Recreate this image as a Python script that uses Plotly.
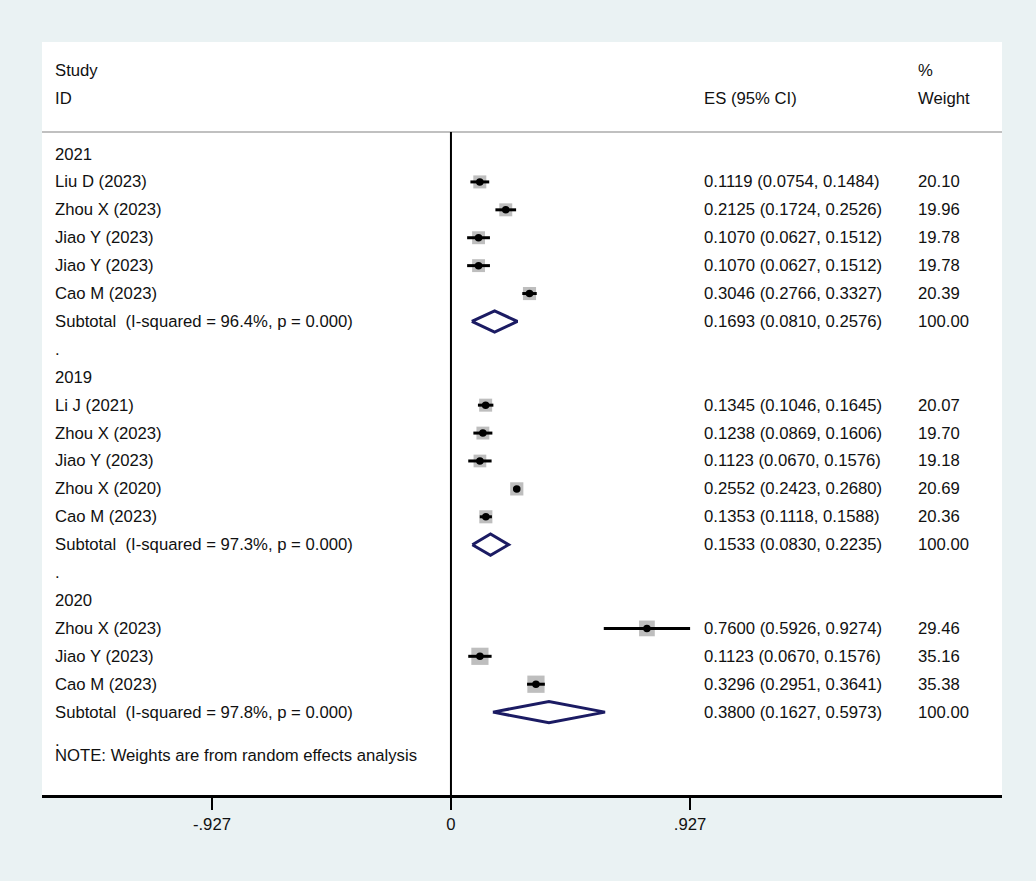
import plotly.graph_objects as go
import numpy as np

# ---- data ----
groups = ["2021", "2019", "2020"]

studies_2021 = ["Liu D (2023)", "Zhou X (2023)", "Jiao Y (2023)", "Jiao Y (2023)", "Cao M (2023)"]
es_2021 = [0.1119, 0.2125, 0.1070, 0.1070, 0.3046]
lo_2021 = [0.0754, 0.1724, 0.0627, 0.0627, 0.2766]
hi_2021 = [0.1484, 0.2526, 0.1512, 0.1512, 0.3327]
wt_2021 = [20.10, 19.96, 19.78, 19.78, 20.39]

studies_2019 = ["Li J (2021)", "Zhou X (2023)", "Jiao Y (2023)", "Zhou X (2020)", "Cao M (2023)"]
es_2019 = [0.1345, 0.1238, 0.1123, 0.2552, 0.1353]
lo_2019 = [0.1046, 0.0869, 0.0670, 0.2423, 0.1118]
hi_2019 = [0.1645, 0.1606, 0.1576, 0.2680, 0.1588]
wt_2019 = [20.07, 19.70, 19.18, 20.69, 20.36]

studies_2020 = ["Zhou X (2023)", "Jiao Y (2023)", "Cao M (2023)"]
es_2020 = [0.7600, 0.1123, 0.3296]
lo_2020 = [0.5926, 0.0670, 0.2951]
hi_2020 = [0.9274, 0.1576, 0.3641]
wt_2020 = [29.46, 35.16, 35.38]

sub_es = [0.1693, 0.1533, 0.3800]
sub_lo = [0.0810, 0.0830, 0.1627]
sub_hi = [0.2576, 0.2235, 0.5973]
sub_isq = [96.4, 97.3, 97.8]
sub_p = [0.000, 0.000, 0.000]

tick_vals = [-0.927, 0, 0.927]
tick_text = ["-.927", "0", ".927"]

note = "NOTE: Weights are from random effects analysis"

# ---- layout constants ----
FONT = "Liberation Sans, Arial, sans-serif"
FS = 16.7
TXT = "#111111"
NAVY = "#1b1b63"
BG = "#eaf2f3"
x_lab, x_es, x_wt = -1.544, 0.973, 1.803

group_data = [
    (studies_2021, es_2021, lo_2021, hi_2021, wt_2021),
    (studies_2019, es_2019, lo_2019, hi_2019, wt_2019),
    (studies_2020, es_2020, lo_2020, hi_2020, wt_2020),
]

# build rows
labels, label_y = [], []
es_txt, wt_txt, txt_y = [], [], []
st_es, st_lo, st_hi, st_w, st_y = [], [], [], [], []
dia_x, dia_y = [], []
k = 0
for g, (names, es, lo, hi, wt) in enumerate(group_data):
    labels.append(groups[g]); label_y.append(k); k += 1
    for i in range(len(names)):
        labels.append(names[i]); label_y.append(k)
        es_txt.append(f"{es[i]:.4f} ({lo[i]:.4f}, {hi[i]:.4f})")
        wt_txt.append(f"{wt[i]:.2f}"); txt_y.append(k)
        st_es.append(es[i]); st_lo.append(lo[i]); st_hi.append(hi[i])
        st_w.append(wt[i]); st_y.append(k)
        k += 1
    labels.append(f"Subtotal  (I-squared = {sub_isq[g]:.1f}%, p = {sub_p[g]:.3f})")
    label_y.append(k)
    es_txt.append(f"{sub_es[g]:.4f} ({sub_lo[g]:.4f}, {sub_hi[g]:.4f})")
    wt_txt.append("100.00"); txt_y.append(k)
    h = 0.38
    dia_x += [sub_lo[g], sub_es[g], sub_hi[g], sub_es[g], sub_lo[g], None]
    dia_y += [k, k - h, k, k + h, k, None]
    k += 1
    labels.append("."); label_y.append(k); k += 1

fig = go.Figure()

# CI lines
ci_x, ci_y = [], []
for a, b, y in zip(st_lo, st_hi, st_y):
    ci_x += [a, b, None]
    ci_y += [y, y, None]

fig.add_trace(go.Scatter(
    x=st_es, y=st_y, mode="markers",
    marker=dict(symbol="square", color="#a3a3a3", size=[2.9 * np.sqrt(w) for w in st_w], line=dict(width=0)),
    hoverinfo="skip"))
fig.add_trace(go.Scatter(x=ci_x, y=ci_y, mode="lines", line=dict(color="black", width=3), hoverinfo="skip"))
fig.add_trace(go.Scatter(x=st_es, y=st_y, mode="markers",
                         marker=dict(color="black", size=7.5), hoverinfo="skip"))
fig.add_trace(go.Scatter(x=dia_x, y=dia_y, mode="lines", line=dict(color=NAVY, width=3), hoverinfo="skip"))

# text columns
ann = []
def add_text(x, y, t):
    ann.append(dict(x=x, y=y, xref="x", yref="y", text=t, showarrow=False,
                    xanchor="left", yanchor="middle", font=dict(family=FONT, size=FS, color=TXT)))

add_text(x_lab, -3, "Study")
add_text(x_lab, -2, "ID")
add_text(x_es, -2, "ES (95% CI)")
add_text(x_wt, -3, "%")
add_text(x_wt, -2, "Weight")
for t, y in zip(labels, label_y):
    add_text(x_lab, y, t)
for t, y in zip(es_txt, txt_y):
    add_text(x_es, y, t)
for t, y in zip(wt_txt, txt_y):
    add_text(x_wt, y, t)
add_text(x_lab, 21.55, note)

y_top, y_bot = -4.014, 22.97
fig.update_layout(
    width=1036, height=881, autosize=False,
    margin=dict(l=42, r=34, t=42, b=86),
    paper_bgcolor=BG, plot_bgcolor="white",
    showlegend=False,
    annotations=ann,
    shapes=[
        dict(type="line", xref="paper", yref="y", x0=0, x1=1, y0=-0.79, y1=-0.79,
             line=dict(color="#c0c0c0", width=2)),
        dict(type="line", xref="x", yref="y", x0=0, x1=0, y0=-0.79, y1=y_bot,
             line=dict(color="black", width=2)),
    ],
    xaxis=dict(range=[-1.586, 2.137], showgrid=False, zeroline=False,
               tickvals=tick_vals, ticktext=tick_text, ticks="outside", ticklen=12,
               tickwidth=1.5, tickcolor="black", showline=True, linecolor="black", linewidth=2.5,
               tickfont=dict(family=FONT, size=FS, color=TXT)),
    yaxis=dict(range=[y_bot, y_top], visible=False, showgrid=False, zeroline=False),
)

# drop the page's default body margin so the figure sits at the window corner
fig.write_html("out.html", config={"displayModeBar": False},
               post_script="document.body.style.margin='0';document.body.style.background='#eaf2f3';")
